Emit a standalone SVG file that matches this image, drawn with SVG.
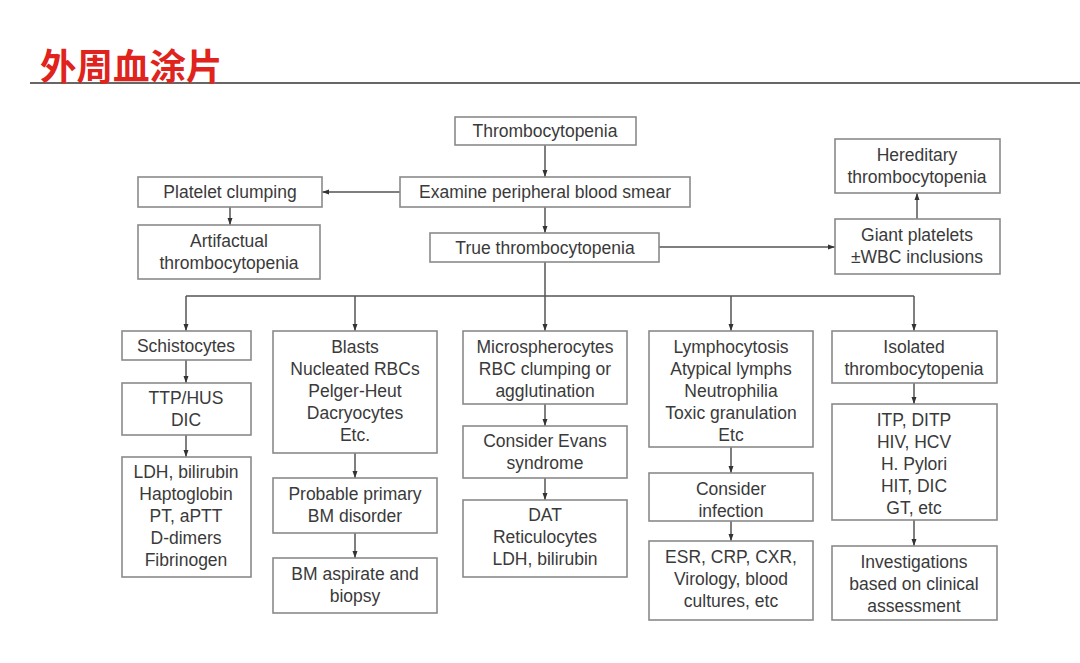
<svg xmlns="http://www.w3.org/2000/svg" width="1080" height="663" viewBox="0 0 1080 663">
<style>
.box{fill:#fff;stroke:#8a8a8a;stroke-width:1.6}
.t{font-family:"Liberation Sans",Arial,sans-serif;font-size:17.5px;fill:#3a3a3a;text-anchor:middle}
.c{fill:none;stroke:#555;stroke-width:1.5}
.title{font-family:"Noto Sans CJK SC","Noto Sans",sans-serif;font-size:36.5px;font-weight:bold;fill:#e0231c}
</style>
<defs>
<marker id="ah" markerUnits="userSpaceOnUse" markerWidth="8" markerHeight="8" refX="7" refY="4" orient="auto">
<path d="M0,1.5 L7,4 L0,6.5 Z" fill="#333"/>
</marker>
</defs>
<rect width="1080" height="663" fill="#fff"/>
<g id="title">
<line x1="30" y1="83" x2="1080" y2="83" stroke="#333" stroke-width="1.6"/>
<text class="title" x="40" y="80">外周血涂片</text>
</g>
<g id="connectors">
<line class="c" x1="545" y1="145" x2="545" y2="177" marker-end="url(#ah)"/>
<line class="c" x1="400" y1="192" x2="322" y2="192" marker-end="url(#ah)"/>
<line class="c" x1="230" y1="207" x2="230" y2="225" marker-end="url(#ah)"/>
<line class="c" x1="545" y1="207" x2="545" y2="233" marker-end="url(#ah)"/>
<line class="c" x1="659" y1="247" x2="835" y2="247" marker-end="url(#ah)"/>
<line class="c" x1="917" y1="219" x2="917" y2="193" marker-end="url(#ah)"/>
<line class="c" x1="545" y1="262" x2="545" y2="296"/>
<line class="c" x1="186" y1="296" x2="914" y2="296"/>
<line class="c" x1="186" y1="296" x2="186" y2="331" marker-end="url(#ah)"/>
<line class="c" x1="355" y1="296" x2="355" y2="331" marker-end="url(#ah)"/>
<line class="c" x1="545" y1="296" x2="545" y2="331" marker-end="url(#ah)"/>
<line class="c" x1="731" y1="296" x2="731" y2="331" marker-end="url(#ah)"/>
<line class="c" x1="914" y1="296" x2="914" y2="331" marker-end="url(#ah)"/>
<line class="c" x1="186" y1="360" x2="186" y2="383" marker-end="url(#ah)"/>
<line class="c" x1="186" y1="435" x2="186" y2="457" marker-end="url(#ah)"/>
<line class="c" x1="355" y1="453" x2="355" y2="478" marker-end="url(#ah)"/>
<line class="c" x1="355" y1="533" x2="355" y2="558" marker-end="url(#ah)"/>
<line class="c" x1="545" y1="404" x2="545" y2="426" marker-end="url(#ah)"/>
<line class="c" x1="545" y1="478" x2="545" y2="500" marker-end="url(#ah)"/>
<line class="c" x1="731" y1="447" x2="731" y2="473" marker-end="url(#ah)"/>
<line class="c" x1="731" y1="521" x2="731" y2="541" marker-end="url(#ah)"/>
<line class="c" x1="914" y1="383" x2="914" y2="404" marker-end="url(#ah)"/>
<line class="c" x1="914" y1="520" x2="914" y2="546" marker-end="url(#ah)"/>
</g>
<g id="n-thrombocytopenia"><rect class="box" x="455" y="117" width="181" height="28"/><text class="t" x="545" y="137">Thrombocytopenia</text></g>
<g id="n-examine"><rect class="box" x="400" y="177" width="290" height="30"/><text class="t" x="545" y="198">Examine peripheral blood smear</text></g>
<g id="n-clumping"><rect class="box" x="138" y="177" width="184" height="30"/><text class="t" x="230" y="198">Platelet clumping</text></g>
<g id="n-artifactual"><rect class="box" x="138" y="225" width="182" height="54"/><text class="t" x="229" y="247">Artifactual</text><text class="t" x="229" y="269">thrombocytopenia</text></g>
<g id="n-true"><rect class="box" x="430" y="233" width="229" height="29"/><text class="t" x="545" y="254">True thrombocytopenia</text></g>
<g id="n-hereditary"><rect class="box" x="835" y="139" width="165" height="54"/><text class="t" x="917" y="161">Hereditary</text><text class="t" x="917" y="183">thrombocytopenia</text></g>
<g id="n-giant"><rect class="box" x="835" y="219" width="165" height="55"/><text class="t" x="917" y="241">Giant platelets</text><text class="t" x="917" y="263">±WBC inclusions</text></g>
<g id="n-schistocytes"><rect class="box" x="122" y="331" width="129" height="29"/><text class="t" x="186" y="352">Schistocytes</text></g>
<g id="n-ttp"><rect class="box" x="122" y="383" width="129" height="52"/><text class="t" x="186" y="404">TTP/HUS</text><text class="t" x="186" y="426">DIC</text></g>
<g id="n-ldh"><rect class="box" x="122" y="457" width="129" height="120"/><text class="t" x="186" y="478">LDH, bilirubin</text><text class="t" x="186" y="500">Haptoglobin</text><text class="t" x="186" y="522">PT, aPTT</text><text class="t" x="186" y="544">D-dimers</text><text class="t" x="186" y="566">Fibrinogen</text></g>
<g id="n-blasts"><rect class="box" x="273" y="331" width="164" height="122"/><text class="t" x="355" y="353">Blasts</text><text class="t" x="355" y="375">Nucleated RBCs</text><text class="t" x="355" y="397">Pelger-Heut</text><text class="t" x="355" y="419">Dacryocytes</text><text class="t" x="355" y="441">Etc.</text></g>
<g id="n-probable"><rect class="box" x="273" y="478" width="164" height="55"/><text class="t" x="355" y="500">Probable primary</text><text class="t" x="355" y="522">BM disorder</text></g>
<g id="n-bm"><rect class="box" x="273" y="558" width="164" height="55"/><text class="t" x="355" y="580">BM aspirate and</text><text class="t" x="355" y="602">biopsy</text></g>
<g id="n-micro"><rect class="box" x="463" y="331" width="164" height="73"/><text class="t" x="545" y="353">Microspherocytes</text><text class="t" x="545" y="375">RBC clumping or</text><text class="t" x="545" y="397">agglutination</text></g>
<g id="n-evans"><rect class="box" x="463" y="426" width="164" height="52"/><text class="t" x="545" y="447">Consider Evans</text><text class="t" x="545" y="469">syndrome</text></g>
<g id="n-dat"><rect class="box" x="463" y="500" width="164" height="77"/><text class="t" x="545" y="521">DAT</text><text class="t" x="545" y="543">Reticulocytes</text><text class="t" x="545" y="565">LDH, bilirubin</text></g>
<g id="n-lymph"><rect class="box" x="649" y="331" width="164" height="116"/><text class="t" x="731" y="353">Lymphocytosis</text><text class="t" x="731" y="375">Atypical lymphs</text><text class="t" x="731" y="397">Neutrophilia</text><text class="t" x="731" y="419">Toxic granulation</text><text class="t" x="731" y="441">Etc</text></g>
<g id="n-infection"><rect class="box" x="649" y="473" width="164" height="48"/><text class="t" x="731" y="495">Consider</text><text class="t" x="731" y="517">infection</text></g>
<g id="n-esr"><rect class="box" x="649" y="541" width="164" height="79"/><text class="t" x="731" y="563">ESR, CRP, CXR,</text><text class="t" x="731" y="585">Virology, blood</text><text class="t" x="731" y="607">cultures, etc</text></g>
<g id="n-isolated"><rect class="box" x="832" y="331" width="165" height="52"/><text class="t" x="914" y="353">Isolated</text><text class="t" x="914" y="375">thrombocytopenia</text></g>
<g id="n-itp"><rect class="box" x="832" y="404" width="165" height="116"/><text class="t" x="914" y="426">ITP, DITP</text><text class="t" x="914" y="448">HIV, HCV</text><text class="t" x="914" y="470">H. Pylori</text><text class="t" x="914" y="492">HIT, DIC</text><text class="t" x="914" y="514">GT, etc</text></g>
<g id="n-invest"><rect class="box" x="832" y="546" width="165" height="74"/><text class="t" x="914" y="568">Investigations</text><text class="t" x="914" y="590">based on clinical</text><text class="t" x="914" y="612">assessment</text></g>
</svg>
